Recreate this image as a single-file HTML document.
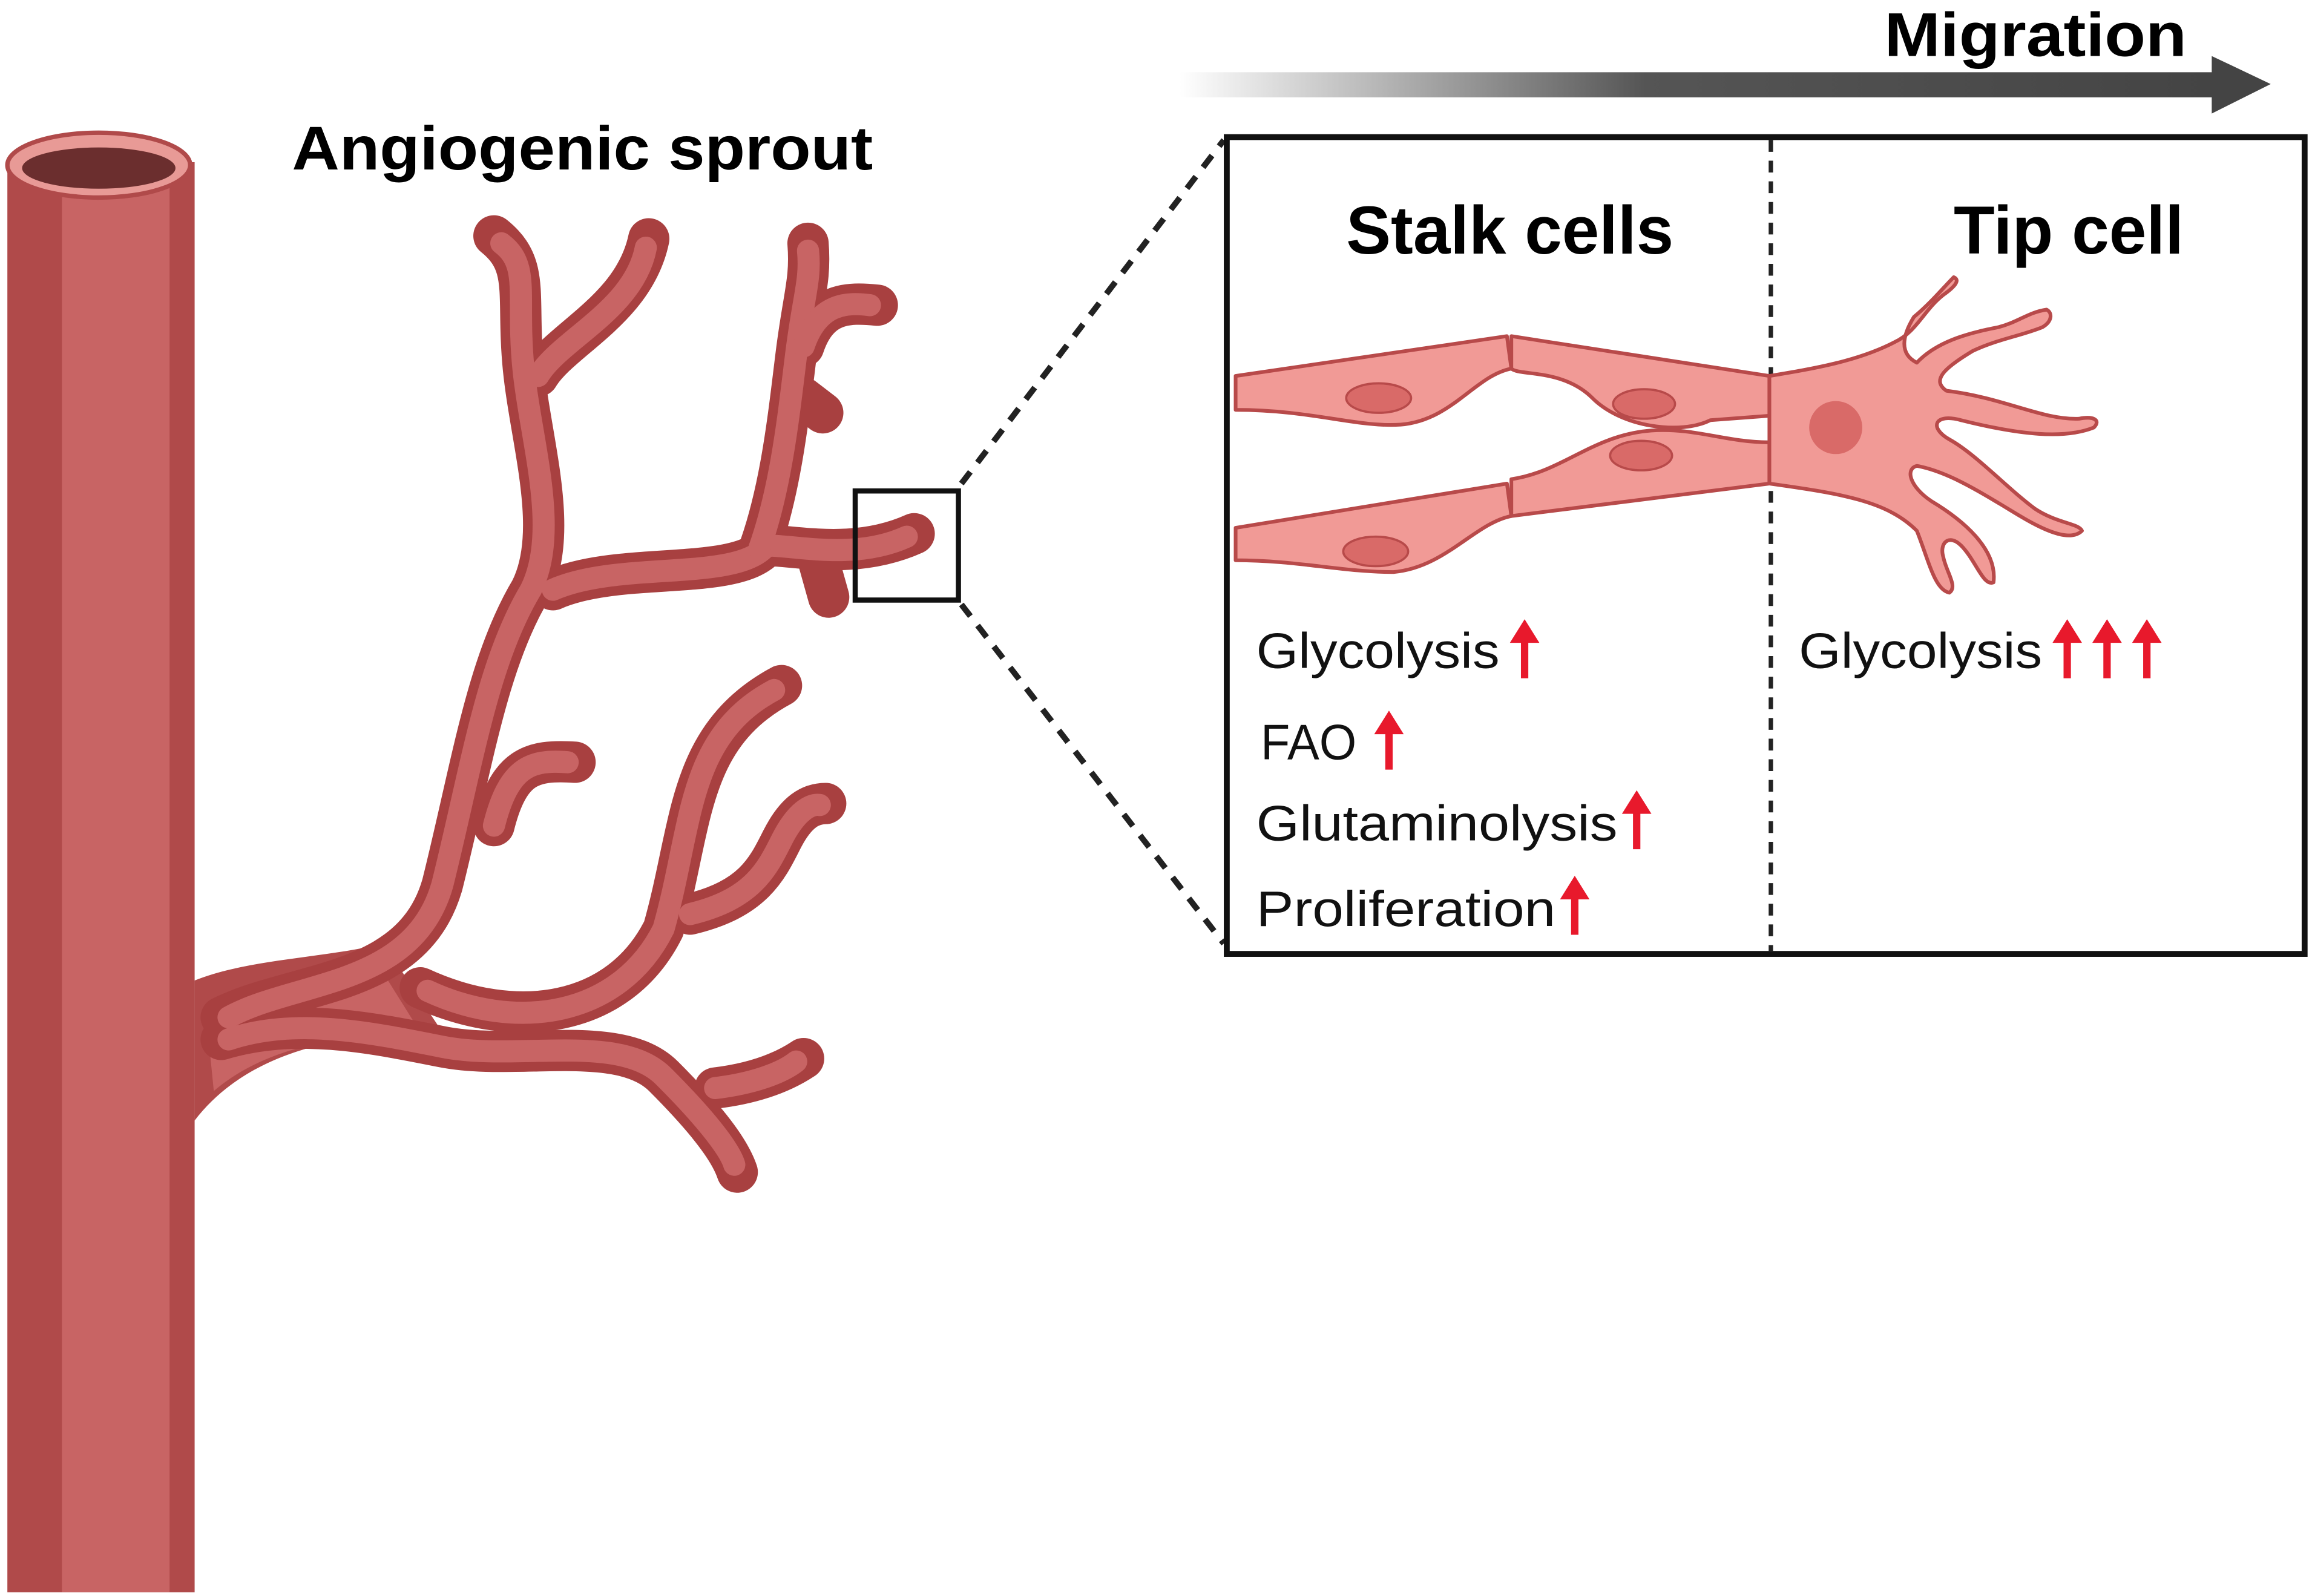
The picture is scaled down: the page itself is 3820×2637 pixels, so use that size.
<!DOCTYPE html>
<html><head><meta charset="utf-8"><style>
html,body{margin:0;padding:0;background:#fff;width:3820px;height:2637px;overflow:hidden}
svg{display:block}
text{font-family:"Liberation Sans",sans-serif}
</style></head><body>
<svg width="3820" height="2637" viewBox="0 0 1568 1082.5" preserveAspectRatio="none" xmlns="http://www.w3.org/2000/svg">
<defs>
<linearGradient id="g" x1="0" x2="1" y1="0" y2="0">
<stop offset="0" stop-color="#fff"/><stop offset="0.45" stop-color="#555"/><stop offset="1" stop-color="#444"/>
</linearGradient>
</defs>
<rect width="1568" height="1083" fill="#fff"/>
<!-- main vessel -->
<rect x="5" y="110" width="127" height="970" fill="#b04a4a"/>
<rect x="42" y="110" width="73" height="970" fill="#c86464"/>
<ellipse cx="67" cy="112" rx="62" ry="22" fill="#e89a96" stroke="#b04a4a" stroke-width="3"/>
<ellipse cx="67" cy="114" rx="52" ry="14" fill="#6b2e2e"/>
<!-- junction fan -->
<path d="M132 665 C170 650,220 650,260 640 L300 700 C240 700,170 710,132 760 Z" fill="#b04a4a"/>
<path d="M140 690 C180 670,220 668,260 660 L285 700 C230 702,180 710,145 740 Z" fill="#c86464"/>
<!-- branches -->
<g fill="none" stroke-linecap="round" stroke-linejoin="round">
<g stroke="#a84040" stroke-width="28">
<path d="M150 690 C200 665,280 670,300 600 C320 520,330 450,360 400 C380 360,360 300,355 250 C350 200,360 180,335 160"/>
<path d="M365 255 C380 230,430 210,440 162"/>
<path d="M375 400 C420 380,500 395,520 370 C540 370,580 380,620 362"/>
<path d="M515 372 C530 330,535 280,540 240 C545 200,550 190,548 165"/>
<path d="M545 235 C555 205,575 205,595 207"/>
<path d="M545 270 L558 280"/>
<path d="M555 380 L562 405"/>
<path d="M150 705 C200 690,250 700,300 710 C350 720,420 700,450 730 C480 760,495 780,500 795"/>
<path d="M285 670 C350 700,420 690,450 630 C470 560,465 500,530 465"/>
<path d="M468 620 C510 610,520 590,530 570 C540 550,550 545,560 545"/>
<path d="M335 560 C345 520,360 515,390 517"/>
<path d="M485 738 C510 735,530 728,545 718"/>
</g>
<g stroke="#c86464" stroke-width="15">
<path d="M155 690 C200 665,280 670,300 600 C320 520,330 450,360 400 C380 360,360 300,355 250 C350 200,360 180,340 165"/>
<path d="M365 255 C380 230,430 210,438 168"/>
<path d="M375 400 C420 380,500 395,520 370 C540 370,580 380,615 364"/>
<path d="M515 372 C530 330,535 280,540 240 C545 200,550 190,548 170"/>
<path d="M545 235 C555 205,575 205,590 207"/>
<path d="M155 705 C200 690,250 700,300 710 C350 720,420 700,450 730 C480 760,495 780,498 790"/>
<path d="M290 672 C350 700,420 690,450 630 C470 560,465 500,525 468"/>
<path d="M468 620 C510 610,520 590,530 570 C540 550,550 545,556 546"/>
<path d="M335 560 C345 520,360 515,385 517"/>
<path d="M485 738 C510 735,530 728,540 720"/>
</g>
</g>
<!-- zoom box -->
<rect x="580" y="333" width="70" height="74" fill="none" stroke="#111" stroke-width="3.5"/>
<line x1="652" y1="328" x2="830" y2="95" stroke="#222" stroke-width="4" stroke-dasharray="10 8"/>
<line x1="652" y1="410" x2="830" y2="640" stroke="#222" stroke-width="4" stroke-dasharray="10 8"/>
<!-- migration arrow -->
<rect x="800" y="49" width="702" height="17" fill="url(#g)"/>
<polygon points="1500,38 1540,57 1500,77" fill="#444"/>
<text x="1278" y="38" font-size="42" font-weight="bold" textLength="205" lengthAdjust="spacingAndGlyphs">Migration</text>
<text x="198" y="115" font-size="42" font-weight="bold" textLength="394" lengthAdjust="spacingAndGlyphs">Angiogenic sprout</text>
<!-- box -->
<rect x="832" y="93" width="731" height="554" fill="none" stroke="#111" stroke-width="4"/>
<line x1="1201" y1="95" x2="1201" y2="645" stroke="#222" stroke-width="3" stroke-dasharray="8 6"/>
<text x="913" y="172" font-size="46" font-weight="bold" textLength="222" lengthAdjust="spacingAndGlyphs">Stalk cells</text>
<text x="1325" y="172" font-size="46" font-weight="bold" textLength="156" lengthAdjust="spacingAndGlyphs">Tip cell</text>
<!-- cells -->
<g fill="#f19a96" stroke="#b84a4a" stroke-width="2.5" stroke-linejoin="round">
<path d="M838 255 L1022 228 L1025 250 C1000 255,985 285,950 288 C920 290,890 278,838 278 Z"/>
<path d="M1025 228 L1200 255 L1200 282 L1160 285 C1140 295,1100 290,1080 270 C1060 250,1030 255,1025 250 Z"/>
<path d="M1025 325 C1060 320,1080 295,1120 292 C1150 290,1170 300,1200 300 L1200 328 L1025 350 Z"/>
<path d="M838 358 L1022 328 L1025 350 C1000 355,980 385,945 388 C910 388,880 380,838 380 Z"/>
<path d="M1200 255 C1230 250,1260 245,1285 232 C1300 225,1305 210,1318 200 C1325 195,1330 190,1325 188 C1318 195,1310 205,1298 215 C1290 228,1288 240,1300 246 C1315 230,1340 225,1355 222 C1370 218,1375 212,1388 210 C1392 212,1392 218,1385 222 C1370 228,1355 230,1338 238 C1318 250,1310 258,1320 265 C1360 270,1385 285,1410 284 C1420 282,1425 285,1420 290 C1400 298,1370 295,1330 285 C1312 280,1308 290,1322 298 C1340 308,1360 330,1380 345 C1395 355,1410 355,1412 360 C1405 367,1390 362,1370 350 C1345 335,1322 320,1300 316 C1292 318,1295 330,1310 340 C1330 352,1355 372,1352 395 C1345 398,1340 380,1330 370 C1322 362,1315 368,1318 378 C1320 388,1328 398,1322 402 C1312 400,1308 380,1300 360 C1280 340,1250 335,1200 328 Z"/>
</g>
<g fill="#d96a68" stroke="#b84a4a" stroke-width="1.5">
<ellipse cx="935" cy="270" rx="22" ry="10"/>
<ellipse cx="1115" cy="274" rx="21" ry="10"/>
<ellipse cx="1113" cy="309" rx="21" ry="10"/>
<ellipse cx="933" cy="374" rx="22" ry="10"/>
<ellipse cx="1245" cy="290" rx="18" ry="18" stroke="none"/>
</g>
<!-- labels -->
<g font-size="34" fill="#111">
<text x="852" y="453" textLength="165" lengthAdjust="spacingAndGlyphs">Glycolysis</text>
<text x="855" y="515" textLength="65" lengthAdjust="spacingAndGlyphs">FAO</text>
<text x="852" y="570" textLength="245" lengthAdjust="spacingAndGlyphs">Glutaminolysis</text>
<text x="852" y="628" textLength="203" lengthAdjust="spacingAndGlyphs">Proliferation</text>
<text x="1220" y="453" textLength="165" lengthAdjust="spacingAndGlyphs">Glycolysis</text>
</g>
<g stroke="#e8192c" stroke-width="5" fill="#e8192c">
<path d="M1034 460 L1034 430"/><polygon points="1024,436 1034,420 1044,436" stroke="none"/>
<path d="M942 522 L942 492"/><polygon points="932,498 942,482 952,498" stroke="none"/>
<path d="M1110 576 L1110 546"/><polygon points="1100,552 1110,536 1120,552" stroke="none"/>
<path d="M1068 634 L1068 604"/><polygon points="1058,610 1068,594 1078,610" stroke="none"/>
<path d="M1402 460 L1402 430"/><polygon points="1392,436 1402,420 1412,436" stroke="none"/>
<path d="M1429 460 L1429 430"/><polygon points="1419,436 1429,420 1439,436" stroke="none"/>
<path d="M1456 460 L1456 430"/><polygon points="1446,436 1456,420 1466,436" stroke="none"/>
</g>
</svg>
</body></html>
